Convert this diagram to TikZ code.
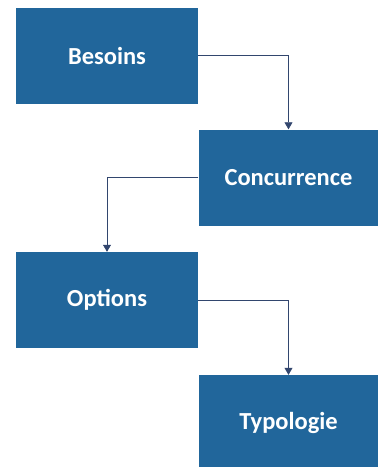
\documentclass[tikz,border=0pt]{standalone}
\usepackage{fontspec}
\setmainfont{Carlito}
\usetikzlibrary{arrows.meta}
\definecolor{boxblue}{RGB}{33,102,155}
\definecolor{linenavy}{RGB}{50,70,110}
\tikzset{
  stage/.style={rectangle, fill=boxblue, draw=none, inner sep=0pt,
    minimum width=182pt, minimum height=96pt, text=white,
    font=\fontsize{24.5}{29}\selectfont\bfseries},
  link/.style={draw=linenavy, line width=0.7pt,
    -{Triangle[width=8pt,length=7pt]}}
}
\begin{document}
\begin{tikzpicture}[x=1pt,y=-1pt]
\useasboundingbox (0,0) rectangle (378,467);
\node[stage] (besoins) at (107,55.5) {\raisebox{-1.5pt}{Besoins}};
\node[stage, minimum width=180pt, minimum height=96.5pt] (concurrence) at (288.5,177.75) {\raisebox{-1.5pt}{Concurrence}};
\node[stage] (options) at (107,300) {\raisebox{-2.5pt}{Options}};
\node[stage, minimum width=180pt, minimum height=96pt] (typologie) at (288.5,423) {\raisebox{-2.5pt}{Typologie}};
\draw[link] (besoins.east) -| (concurrence.north);
\draw[link] (concurrence.west) -| (options.north);
\draw[link] (options.east) -| (typologie.north);
\end{tikzpicture}
\end{document}
